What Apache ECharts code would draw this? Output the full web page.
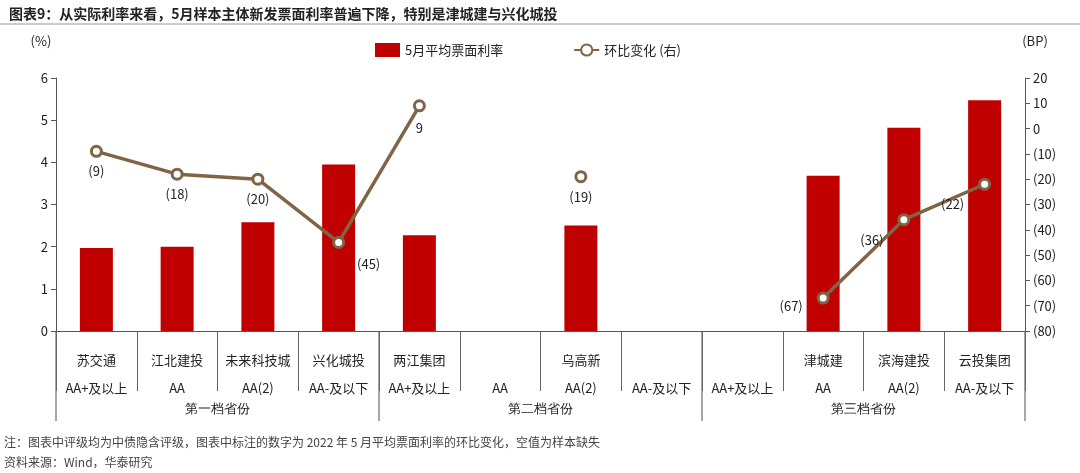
<!DOCTYPE html>
<html><head><meta charset="utf-8">
<script src="https://cdn.jsdelivr.net/npm/echarts@6/dist/echarts.min.js"></script>
<style>body{margin:0}#c{width:1080px;height:473px}</style></head>
<body><div id="c"></div>
<script>
var names = ['苏交通','江北建投','未来科技城','兴化城投','两江集团','','乌高新','','','津城建','滨海建投','云投集团'];
var ratings = ['AA+及以上','AA','AA(2)','AA-及以下','AA+及以上','AA','AA(2)','AA-及以下','AA+及以上','AA','AA(2)','AA-及以下'];
var groups = [['第一档省份',0,4],['第二档省份',4,8],['第三档省份',8,12]];
var rate = [1.97,2.0,2.58,3.95,2.27,null,2.5,null,null,3.68,4.82,5.47];
var change = [-9,-18,-20,-45,9,null,-19,null,null,-67,-36,-22];
var labelPos = [[0,20],[0,20],[0,20],[30,22],[0,22],null,[0,20],null,null,[-32,8],[-32,20],[-32,20]];

var font = '"Noto Sans CJK SC", sans-serif';
var chart = echarts.init(document.getElementById('c'));
var lineData = change.map(function (v, i) {
  if (v === null) return null;
  return {value: v, label: {offset: labelPos[i]}};
});
chart.setOption({
  animation: false,
  textStyle: {fontFamily: font},
  title: {text: '图表9：从实际利率来看，5月样本主体新发票面利率普遍下降，特别是津城建与兴化城投', left: 4, top: 2,
    textStyle: {fontSize: 14, fontWeight: 'bold', color: '#222', fontFamily: font}},
  legend: {top: 38, left: 370, itemGap: 70, textStyle: {fontSize: 13, color: '#222'},
    data: [{name: '5月平均票面利率', icon: 'rect', itemWidth: 46, itemHeight: 10},
           {name: '环比变化 (右)', itemWidth: 46}]},
  grid: {left: 56, right: 55, top: 78, bottom: 142},
  xAxis: {type: 'category', data: names,
    axisLine: {lineStyle: {color: '#555'}},
    axisTick: {show: true, interval: 0, length: 60, lineStyle: {color: '#666'}},
    axisLabel: {interval: 0, fontSize: 13, color: '#222', margin: 15, lineHeight: 28,
      formatter: function (v, i) { return v + '\n' + ratings[i]; }}},
  yAxis: [
    {type: 'value', min: 0, max: 6, interval: 1, name: '(%)', nameLocation: 'end', nameGap: 30,
      nameTextStyle: {fontSize: 13, color: '#222', padding: [0, 30, 0, 0]},
      axisLine: {show: true, lineStyle: {color: '#555'}}, axisTick: {show: true},
      axisLabel: {fontSize: 13, color: '#222'}, splitLine: {show: false}},
    {type: 'value', min: -80, max: 20, interval: 10, name: '(BP)', nameGap: 30,
      nameTextStyle: {fontSize: 13, color: '#222', padding: [0, 0, 0, 20]},
      axisLine: {show: true, lineStyle: {color: '#555'}}, axisTick: {show: true},
      axisLabel: {fontSize: 13, color: '#222', formatter: function (v) { return v < 0 ? '(' + (-v) + ')' : v; }},
      splitLine: {show: false}}
  ],
  series: [
    {name: '5月平均票面利率', type: 'bar', data: rate, barWidth: 33, itemStyle: {color: '#C00000'}},
    {name: '环比变化 (右)', type: 'line', yAxisIndex: 1, data: lineData, connectNulls: false,
      symbol: 'circle', symbolSize: 10, showAllSymbol: true,
      lineStyle: {color: '#7F6445', width: 3.5},
      itemStyle: {color: '#fff', borderColor: '#7F6445', borderWidth: 3},
      label: {show: true, position: 'inside', fontSize: 13, color: '#222',
        formatter: function (p) { return p.value < 0 ? '(' + (-p.value) + ')' : p.value; }}}
  ]
});
var g = [];
var y0 = chart.convertToPixel({yAxisIndex: 0}, 0);
var step = (chart.convertToPixel({xAxisIndex: 0}, 1) - chart.convertToPixel({xAxisIndex: 0}, 0));
var x0 = chart.convertToPixel({xAxisIndex: 0}, 0) - step / 2;
groups.forEach(function (gr) {
  var xa = x0 + gr[1] * step, xb = x0 + gr[2] * step;
  g.push({type: 'line', shape: {x1: xa, y1: y0, x2: xa, y2: y0 + 90}, style: {stroke: '#888', lineWidth: 1.5}});
  g.push({type: 'text', x: (xa + xb) / 2, y: y0 + 78, style: {text: gr[0], fontSize: 13, fill: '#222', font: '13px ' + font, textAlign: 'center', textVerticalAlign: 'middle'}});
});
var xe = x0 + 12 * step;
g.push({type: 'line', shape: {x1: xe, y1: y0, x2: xe, y2: y0 + 90}, style: {stroke: '#888', lineWidth: 1.5}});
g.push({type: 'text', left: 4, top: 436, style: {text: '注：图表中评级均为中债隐含评级，图表中标注的数字为 2022 年 5 月平均票面利率的环比变化，空值为样本缺失', font: '12px ' + font, fill: '#444'}});
g.push({type: 'text', left: 4, top: 456, style: {text: '资料来源：Wind，华泰研究', font: '12px ' + font, fill: '#444'}});
g.push({type: 'line', shape: {x1: 0, y1: 24, x2: 1080, y2: 24}, style: {stroke: '#999', lineWidth: 1}});
chart.setOption({graphic: g});
</script></body></html>
